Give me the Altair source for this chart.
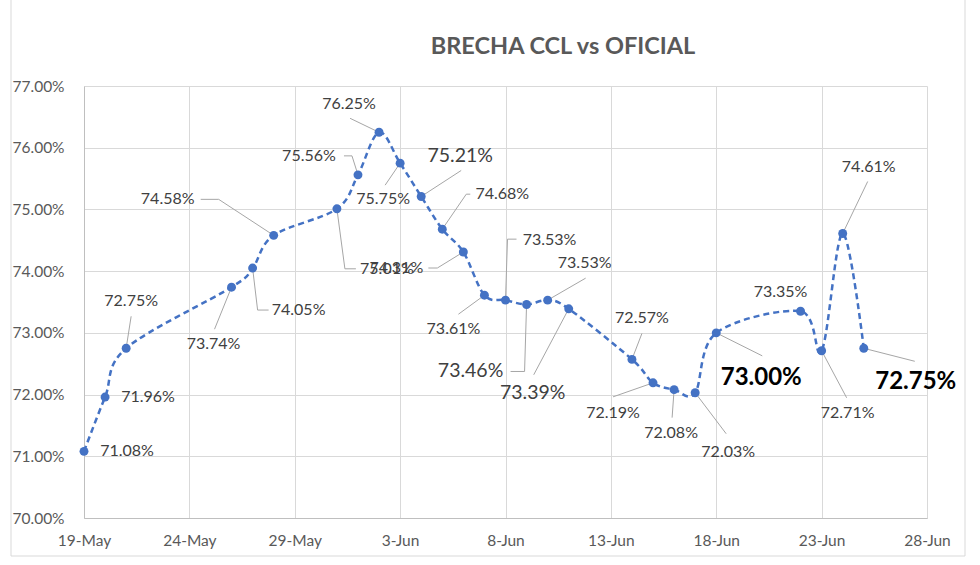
import altair as alt
import pandas as pd
from datetime import datetime, timezone, timedelta

# ---------------- data ----------------
dates = ["2021-05-19", "2021-05-20", "2021-05-21", "2021-05-26", "2021-05-27",
         "2021-05-28", "2021-05-31", "2021-06-01", "2021-06-02", "2021-06-03",
         "2021-06-04", "2021-06-05", "2021-06-06", "2021-06-07", "2021-06-08",
         "2021-06-09", "2021-06-10", "2021-06-11", "2021-06-14", "2021-06-15",
         "2021-06-16", "2021-06-17", "2021-06-18", "2021-06-22", "2021-06-23",
         "2021-06-24", "2021-06-25"]
values = [71.08, 71.96, 72.75, 73.74, 74.05, 74.58, 75.01, 75.56, 76.25, 75.75,
          75.21, 74.68, 74.31, 73.61, 73.53, 73.46, 73.53, 73.39, 72.57, 72.19,
          72.08, 72.03, 73.00, 73.35, 72.71, 74.61, 72.75]
x_tick_dates = ["2021-05-19", "2021-05-24", "2021-05-29", "2021-06-03", "2021-06-08",
                "2021-06-13", "2021-06-18", "2021-06-23", "2021-06-28"]
y_ticks = [0.70, 0.71, 0.72, 0.73, 0.74, 0.75, 0.76, 0.77]
title_text = "BRECHA CCL vs OFICIAL"

# ---------------- styles (label placement, in pixels) ----------------
label_style = ["n"] * len(values)
for i in (10, 15, 17):
    label_style[i] = "big"
for i in (22, 26):
    label_style[i] = "bold"

label_offsets = [(43, 0), (43, 0), (5, -47), (-18, 57), (46, 42), (-106, -36),
                 (50, 60), (-49, -19), (-30, -28), (-17, 36), (39, -40), (60, -35),
                 (-67, 16), (-31, 34), (44, -60), (-56, 67), (37, -37), (-36, 84),
                 (10, -41), (-40, 30), (-3, 43), (33, 59), (45, 45), (-20, -19),
                 (26, 62), (26, -66), (52, 34)]
leader_paths = [
    None, None,
    [(5, -32), (0, 0)],
    [(-17, 42), (0, 0)],
    [(0, 0), (5, 42), (16, 42)],
    [(-73, -36), (-55, -36), (0, 0)],
    [(0, 0), (8, 60), (19, 60)],
    [(-14, -19), (-6, -19), (0, 0)],
    [(-29, -14), (0, 0)],
    [(-15, 22), (0, 0)],
    [(40, -26), (0, 0)],
    [(0, 0), (24, -35), (28, -35)],
    [(-35, 16), (-26, 16), (0, 0)],
    [(-26, 19), (0, 0)],
    [(0, 0), (2, -61), (11, -61)],
    [(0, 0), (-2, 67), (-16, 67)],
    [(38, -22), (0, 0)],
    [(-35, 66), (0, 0)],
    [(10, -26), (0, 0)],
    [(-40, 14), (0, 0)],
    [(-2, 28), (0, 0)],
    [(31, 41), (0, 0)],
    [(46, 23), (0, 0)],
    None,
    [(25, 47), (0, 0)],
    [(25, -52), (0, 0)],
    [(51, 13), (0, 0)],
]

W, H = 843, 432
FONT = "Lato"
EPOCH = datetime(1970, 1, 1, tzinfo=timezone.utc)


def to_ms(s, extra_days=0.0):
    d = datetime.strptime(s, "%Y-%m-%d").replace(tzinfo=timezone.utc)
    d = d + timedelta(days=extra_days)
    return (d - EPOCH).total_seconds() * 1000.0


x_min, x_max = to_ms(x_tick_dates[0]), to_ms(x_tick_dates[-1])
days_span = (x_max - x_min) / 86400000.0
PX_PER_DAY = W / days_span
PX_PER_UNIT = H / (y_ticks[-1] - y_ticks[0])   # pixels per 1.0 of fraction

df = pd.DataFrame({
    "t": [to_ms(d) for d in dates],
    "v": [v / 100 for v in values],
})

lab_rows = []
for i, (d, v) in enumerate(zip(dates, values)):
    dx, dy = label_offsets[i]
    lab_rows.append({
        "t": to_ms(d, dx / PX_PER_DAY),
        "v": v / 100 - dy / PX_PER_UNIT,
        "txt": f"{v:.2f}%",
        "style": label_style[i],
        "fs": {"n": 16, "big": 19.5, "bold": 24}[label_style[i]],
    })
lab = pd.DataFrame(lab_rows)

lead_rows = []
for i, path in enumerate(leader_paths):
    if not path:
        continue
    for k, (dx, dy) in enumerate(path):
        lead_rows.append({
            "id": i, "k": k,
            "t": to_ms(dates[i], dx / PX_PER_DAY),
            "v": values[i] / 100 - dy / PX_PER_UNIT,
        })
lead = pd.DataFrame(lead_rows)

x_scale = alt.Scale(type="utc", domain=[x_min, x_max], nice=False)
y_scale = alt.Scale(domain=[y_ticks[0], y_ticks[-1]], nice=False, zero=False)

x_axis = alt.Axis(
    values=[to_ms(d) for d in x_tick_dates],
    labelExpr="utcdate(datum.value) + '-' + utcFormat(datum.value, '%b')",
    title=None, grid=True, gridColor="#d9d9d9", gridWidth=1,
    domainColor="#bfbfbf", domainWidth=1, ticks=False,
    labelFont=FONT, labelFontSize=15.5, labelColor="#595959",
    labelPadding=15, labelBaseline="top", labelOverlap=False, labelFlush=False)
y_axis = alt.Axis(
    values=y_ticks, format=".2%", title=None, grid=True, gridColor="#d9d9d9",
    gridWidth=1, domainColor="#bfbfbf", domainWidth=1, ticks=False,
    labelFont=FONT, labelFontSize=15.5, labelColor="#595959",
    labelAlign="left", labelPadding=72, labelBaseline="middle")

xs = alt.X("t:T", scale=x_scale, axis=x_axis)
ys = alt.Y("v:Q", scale=y_scale, axis=y_axis)

base_line = alt.Chart(df).mark_line(
    color="#4472C4", strokeWidth=2.5, strokeDash=[6, 4], interpolate="cardinal"
).encode(x=xs, y=ys)

leaders = alt.Chart(lead).mark_line(color="#a6a6a6", strokeWidth=1).encode(
    x=xs, y=ys, detail="id:N", order="k:Q")

points = alt.Chart(df).mark_circle(color="#4472C4", size=80, opacity=1).encode(
    x=xs, y=ys)

labels_reg = alt.Chart(lab).transform_filter(alt.datum.style != "bold").mark_text(
    font=FONT, color="#404040", align="center", baseline="middle"
).encode(x=xs, y=ys, text="txt:N", size=alt.Size("fs:Q", scale=None, legend=None))

labels_bold = alt.Chart(lab).transform_filter(alt.datum.style == "bold").mark_text(
    font=FONT, color="#000000", align="center", baseline="middle", fontWeight="bold"
).encode(x=xs, y=ys, text="txt:N", size=alt.Size("fs:Q", scale=None, legend=None))

title = alt.Chart(pd.DataFrame({"txt": [title_text]})).mark_text(
    font=FONT, fontSize=23.5, fontWeight="bold", color="#595959",
    align="center", baseline="middle"
).encode(text="txt:N", x=alt.value(479), y=alt.value(-39))

border = alt.Chart(pd.DataFrame({"a": [0]})).mark_rule(color="#d9d9d9", strokeWidth=1)
border_left = border.encode(x=alt.value(-73), y=alt.value(-86), y2=alt.value(470))
border_right = border.encode(x=alt.value(881), y=alt.value(-86), y2=alt.value(470))
border_bottom = border.encode(x=alt.value(-73), x2=alt.value(881), y=alt.value(470))

chart = alt.layer(
    base_line, leaders, points, labels_reg, labels_bold, title,
    border_left, border_right, border_bottom
).properties(
    width=W, height=H,
    autosize=alt.AutoSizeParams(type="none"),
    padding={"left": 84, "top": 86, "right": 980 - 84 - W, "bottom": 565 - 86 - H},
    background="white",
).configure_view(stroke=None)

chart.save("out.html", embed_options={"renderer": "svg", "actions": False})
